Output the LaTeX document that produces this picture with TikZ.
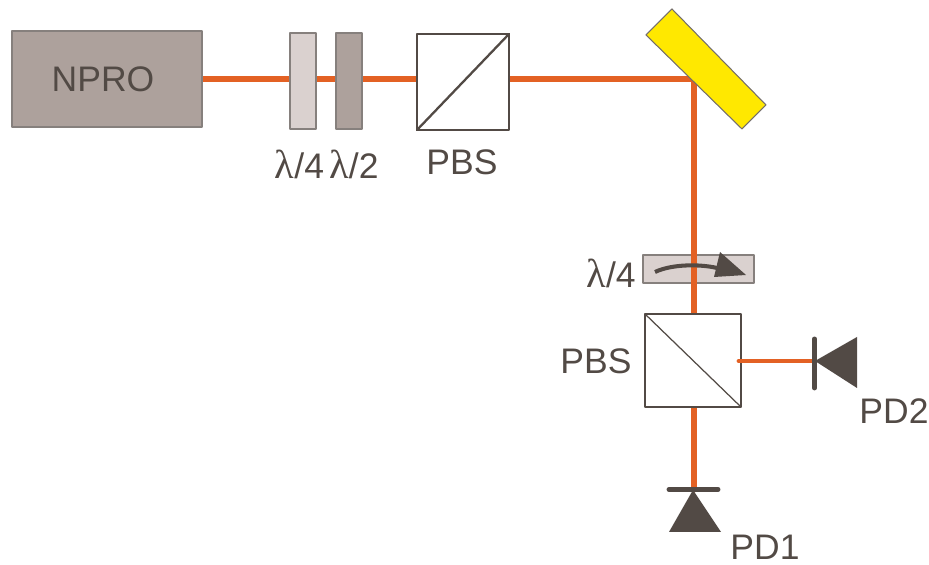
\documentclass[tikz,border=0pt]{standalone}
\usepackage{fontspec}
\setmainfont{Liberation Sans}
\newfontfamily\lamfont{Liberation Serif}
\usepackage{tkz-euclide}
\definecolor{BeamClr}{rgb}{0.89,0.38,0.14}
\definecolor{DarkClr}{rgb}{0.32,0.29,0.27}
\definecolor{LaserClr}{rgb}{0.68,0.63,0.61}
\definecolor{PlateClr}{rgb}{0.855,0.82,0.81}
\definecolor{MirrorClr}{rgb}{1,0.91,0}
\newcommand{\lam}{{\lamfont\fontsize{23}{23}\selectfont λ}}
\tikzset{
  beam/.style={color=BeamClr,line width=3pt},
  optic/.style={color=DarkClr,line width=1.3pt},
  plate/.style={color=DarkClr!70,line width=0.65pt},
  txt/.style={text=DarkClr,font=\fontsize{20.2}{20.2}\selectfont,inner sep=0pt,anchor=center}
}

\begin{document}
\begin{tikzpicture}[scale=2]
\tkzDefPoints{0/0/BL,9.29/5.65/TR}
\useasboundingbox (BL) rectangle (TR);

\tkzDefPoints{0.12/4.38/N1,2.02/4.38/N2,2.02/5.34/N3,0.12/5.34/N4}
\tkzDefPoints{2.90/4.36/Q1,3.16/4.36/Q2,3.16/5.32/Q3,2.90/5.32/Q4}
\tkzDefPoints{3.36/4.36/H1,3.62/4.36/H2,3.62/5.32/H3,3.36/5.32/H4}
\tkzDefPoints{4.17/4.35/A1,5.09/4.35/A2,5.09/5.31/A3,4.17/5.31/A4}
\tkzDefPoints{6.72/5.56/M1,6.46/5.30/M2,7.42/4.36/M3,7.66/4.60/M4}
\tkzDefPoints{6.43/2.82/R1,7.54/2.82/R2,7.54/3.10/R3,6.43/3.10/R4}
\tkzDefPoints{6.45/1.58/B1,7.41/1.58/B2,7.41/2.51/B3,6.45/2.51/B4}
\tkzDefPoints{2.02/4.86/S0,5.13/4.86/S1,6.94/4.86/S2,6.94/2.51/S3}
\tkzDefPoints{7.39/2.04/S4,8.12/2.04/S5,6.94/1.58/S6,6.94/0.75/S7}
\tkzDefPoints{6.69/0.755/P1,7.18/0.755/P2,6.93/0.75/P3,6.69/0.33/P4,7.21/0.33/P5}
\tkzDefPoints{8.145/2.26/P6,8.145/1.77/P7,8.15/2.04/P8,8.57/2.28/P9,8.57/1.77/P10}
\tkzDefPoints{6.55/2.93/C1,7.17/2.97/C2,6.72/3.01/C3,7.00/3.01/C4}
\tkzDefPoints{7.20/3.13/T1,7.46/2.90/T2,7.14/2.88/T3}
\tkzDefPoints{1.03/4.86/Lnpro,2.995/4.01/Lq,3.54/4.01/Lh,4.62/4.03/Lpa}
\tkzDefPoints{6.11/2.92/Lr,5.96/2.04/Lpb,8.94/1.54/Lpd,7.65/0.18/Lpc}

\tkzDrawPolygon[plate,fill=PlateClr](R1,R2,R3,R4)

\tkzDrawSegments[beam](S0,S1 S1,S2 S2,S3 S6,S7)

\tkzDrawPolygon[plate,fill=LaserClr](N1,N2,N3,N4)
\tkzDrawPolygon[plate,fill=PlateClr](Q1,Q2,Q3,Q4)
\tkzDrawPolygon[plate,fill=LaserClr](H1,H2,H3,H4)
\tkzDrawPolygon[optic,fill=white](A1,A2,A3,A4)
\tkzDrawSegment[optic](A1,A3)
\tkzDrawPolygon[optic,fill=white](B1,B2,B3,B4)
\tkzDrawSegment[optic,line width=0.7pt](B4,B2)
\tkzDrawPolygon[color=DarkClr!80,line width=0.6pt,fill=MirrorClr](M1,M2,M3,M4)

\tkzDrawSegment[beam,line width=2.8pt](S4,S5)
\draw[DarkClr,line width=2.3pt] (C1) .. controls (C3) and (C4) .. (C2);
\tkzFillPolygon[fill=DarkClr](T1,T2,T3)

\tkzFillPolygon[fill=DarkClr](P3,P4,P5)
\tkzDrawSegment[color=DarkClr,line width=2.8pt](P1,P2)
\tkzFillPolygon[fill=DarkClr](P8,P9,P10)
\tkzDrawSegment[color=DarkClr,line width=2.8pt](P6,P7)

\tkzLabelPoint[txt,name=LabNpro](Lnpro){NPRO}
\tkzLabelPoint[txt,name=LabQa](Lq){\lam/4}
\tkzLabelPoint[txt,name=LabHa](Lh){\lam/2}
\tkzLabelPoint[txt,name=LabPbsa](Lpa){PBS}
\tkzLabelPoint[txt,name=LabQb](Lr){\lam/4}
\tkzLabelPoint[txt,name=LabPbsb](Lpb){PBS}
\tkzLabelPoint[txt,name=LabPdb](Lpd){PD2}
\tkzLabelPoint[txt,name=LabPda](Lpc){PD1}

\end{tikzpicture}
\end{document}
